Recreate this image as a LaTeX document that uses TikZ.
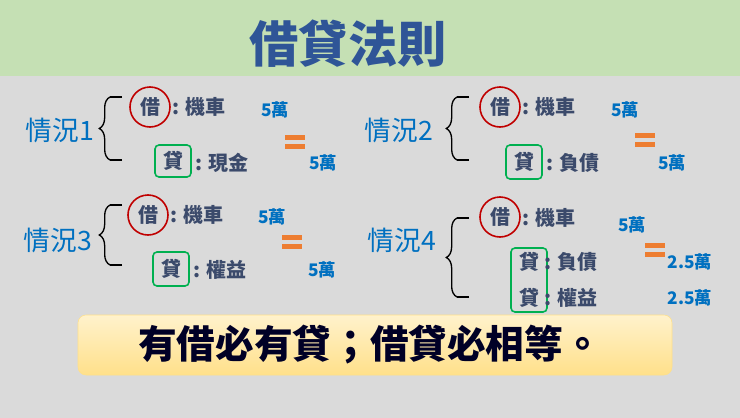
\documentclass[tikz,border=0pt]{standalone}
\usepackage{fontspec}
\setmainfont{Noto Sans CJK TC}
\usetikzlibrary{decorations.pathreplacing}
\definecolor{bg}{HTML}{DADADA}
\definecolor{tband}{HTML}{C5E0B4}
\definecolor{tblue}{HTML}{2F5597}
\definecolor{cblue}{HTML}{0070C0}
\definecolor{dark}{HTML}{3B4A6B}
\definecolor{eqor}{HTML}{ED7D31}
\definecolor{crc}{HTML}{C00000}
\definecolor{gbox}{HTML}{00B050}
\definecolor{ytop}{HTML}{FFF2CC}
\definecolor{ybot}{HTML}{FFE08A}
\tikzset{
  case/.style={font=\fontsize{20}{20}\selectfont, text=cblue, inner sep=0},
  item/.style={font=\bfseries\fontsize{15}{15}\selectfont, text=dark, inner sep=0, anchor=west},
  amt/.style={font=\bfseries\fontsize{13}{13}\selectfont, text=cblue, inner sep=0},
  jie/.style={circle, draw=crc, line width=1.2pt, minimum size=40*0.75pt, inner sep=0, font=\bfseries\fontsize{15}{15}\selectfont, text=dark},
  dai/.style={draw=gbox, line width=1.2pt, rounded corners=3pt, minimum width=36*0.75pt, inner sep=0, font=\bfseries\fontsize{15}{15}\selectfont, text=dark},
  eqbar/.style={fill=eqor, draw=none},
  br/.style={line width=1pt, decorate, decoration={brace, amplitude=8pt}},
  ln/.style={line width=1pt}
}
\newcommand{\eqsign}[2]{\fill[eqbar] (#1-10,#2-7) rectangle (#1+10,#2-2); \fill[eqbar] (#1-10,#2+2) rectangle (#1+10,#2+7);}
\newcommand{\brc}[3]{% x, ytop, ybottom
  \draw[ln] (#1+22,#2) -- (#1+10,#2); \draw[ln] (#1+22,#3) -- (#1+10,#3);
  \draw[br] (#1+10,#3) -- (#1+10,#2);}
\begin{document}
\begin{tikzpicture}[x=0.75pt,y=-0.75pt]
\fill[bg] (0,0) rectangle (740,418);
\useasboundingbox (0,0) rectangle (740,418);
\fill[tband] (0,0) rectangle (740,76);
\node[font=\bfseries\fontsize{37}{37}\selectfont, text=tblue] (title) at (348,44) {借貸法則};
\node[rounded corners=6pt, top color=ytop, bottom color=ybot, minimum width=594*0.75pt, minimum height=60*0.75pt, draw=ybot] (banner) at (375,345) {};
\node[font=\bfseries\fontsize{29}{29}\selectfont, text=black!85!blue] (motto) at (370,345) {有借必有貸；借貸必相等。};
% Case 1
\node[case] (c1) at (60,130) {情況1};
\brc{100}{97}{160}
\node[jie] (j1) at (150,107) {借};
\node[item] (m1) at (172,107) {: 機車};
\node[amt] (a1) at (275,110) {5萬};
\eqsign{295}{142}
\node[dai, minimum height=32*0.75pt] (d1) at (173,161) {貸};
\node[item] (x1) at (195,163) {: 現金};
\node[amt] (b1) at (323,163) {5萬};
% Case 2
\node[case] (c2) at (399,130) {情況2};
\brc{447}{97}{160}
\node[jie] (j2) at (500,107) {借};
\node[item] (m2) at (522,107) {: 機車};
\node[amt] (a2) at (625,110) {5萬};
\eqsign{645}{140}
\node[dai, minimum height=34*0.75pt] (d2) at (524,162) {貸};
\node[item] (x2) at (546,163) {: 負債};
\node[amt] (b2) at (672,163) {5萬};
% Case 3
\node[case] (c3) at (58,240) {情況3};
\brc{100}{205}{265}
\node[jie] (j3) at (148,215) {借};
\node[item] (m3) at (170,215) {: 機車};
\node[amt] (a3) at (272,217) {5萬};
\eqsign{292}{242}
\node[dai, minimum height=34*0.75pt] (d3) at (171,269) {貸};
\node[item] (x3) at (193,270) {: 權益};
\node[amt] (b3) at (322,270) {5萬};
% Case 4
\node[case] (c4) at (402,240) {情況4};
\brc{447}{218}{297}
\node[jie] (j4) at (500,217) {借};
\node[item] (m4) at (522,218) {: 機車};
\node[amt] (a4) at (632,225) {5萬};
\eqsign{655}{250}
\node[dai, minimum height=64*0.75pt] (d4) at (529,280) {};
\node[item] (y4) at (519,262) {貸};
\node[item] (z4) at (519,298) {貸};
\node[item] (x4) at (544,262) {: 負債};
\node[item] (w4) at (544,298) {: 權益};
\node[amt] (b4) at (690,262) {2.5萬};
\node[amt] (e4) at (690,298) {2.5萬};
\end{tikzpicture}
\end{document}
